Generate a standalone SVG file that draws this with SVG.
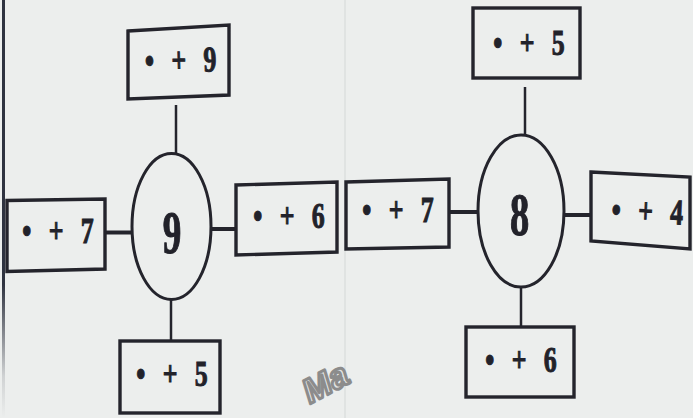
<svg xmlns="http://www.w3.org/2000/svg" width="693" height="418" viewBox="0 0 693 418">
<defs>
<linearGradient id="edgefade" x1="0" y1="0" x2="0" y2="418" gradientUnits="userSpaceOnUse">
  <stop offset="0" stop-color="#2f3340"/>
  <stop offset="0.68" stop-color="#2f3340"/>
  <stop offset="0.9" stop-color="#2f3340" stop-opacity="0.15"/>
  <stop offset="1" stop-color="#2f3340" stop-opacity="0"/>
</linearGradient>
</defs>
<style>
.box{fill:none;stroke:#24242c;stroke-width:3.4;stroke-linejoin:miter}
.ring{fill:none;stroke:#24242c;stroke-width:3}
.lbl{font-family:"Liberation Serif","Times New Roman",serif;font-weight:bold;font-size:36px;fill:#22222a;stroke:#22222a;stroke-width:1;text-anchor:middle;word-spacing:15px}
.num{font-family:"Liberation Serif","Times New Roman",serif;font-weight:bold;font-size:62px;fill:#22222a;stroke:#22222a;stroke-width:1.2;text-anchor:middle}
.thin{stroke:#24242c;stroke-width:2.5;fill:none}
.thick{stroke:#24242c;stroke-width:4;fill:none}
.wm{font-family:"Liberation Sans",Arial,sans-serif;font-weight:bold;font-style:italic;font-size:34px;fill:#e2e4e3;stroke:#8c8c8c;stroke-width:3;stroke-linejoin:round}
</style>
<rect width="693" height="418" fill="#eceeed"/>
<line x1="345" y1="0" x2="345" y2="418" stroke="#e0e3e2" stroke-width="2"/>
<line x1="3.5" y1="0" x2="3.5" y2="418" stroke="url(#edgefade)" stroke-width="3"/>

<g id="connectors">
  <line class="thin" x1="176" y1="105" x2="176" y2="154"/>
  <line class="thick" x1="105" y1="232.5" x2="133" y2="232.5"/>
  <line class="thick" x1="211" y1="229" x2="236" y2="229"/>
  <line class="thin" x1="171" y1="299" x2="171" y2="342"/>
  <line class="thin" x1="525" y1="87" x2="525" y2="136"/>
  <line class="thick" x1="449" y1="212" x2="478" y2="212"/>
  <line class="thick" x1="564" y1="215" x2="591" y2="215"/>
  <line class="thin" x1="521" y1="286" x2="521" y2="328"/>
</g>

<g id="center-9">
  <ellipse class="ring" cx="171.5" cy="226.5" rx="39.5" ry="73"/>
  <text class="num" transform="translate(172,253) scale(0.6,1)">9</text>
</g>
<g id="box-9-top">
  <polygon class="box" points="128,31 229,25 229,95 128,99"/>
  <text class="lbl" transform="translate(181,72) rotate(-1.5) scale(0.72,1)">• + 9</text>
</g>
<g id="box-9-left">
  <polygon class="box" points="7,200.5 105,199 105,269 7,271.5"/>
  <text class="lbl" transform="translate(58,243) scale(0.72,1)">• + 7</text>
</g>
<g id="box-9-right">
  <polygon class="box" points="236,185 337,182 337,252 236,255"/>
  <text class="lbl" transform="translate(289,228) scale(0.72,1)">• + 6</text>
</g>
<g id="box-9-bottom">
  <rect class="box" x="120" y="341" width="100" height="72"/>
  <text class="lbl" transform="translate(172,386) scale(0.72,1)">• + 5</text>
</g>

<g id="center-8">
  <ellipse class="ring" cx="521" cy="211" rx="43" ry="76"/>
  <text class="num" transform="translate(519.5,235) scale(0.62,1)">8</text>
</g>
<g id="box-8-top">
  <rect class="box" x="473" y="8" width="107" height="70"/>
  <text class="lbl" transform="translate(529,55) scale(0.72,1)">• + 5</text>
</g>
<g id="box-8-left">
  <polygon class="box" points="346,182 449,179 449,247 346,249"/>
  <text class="lbl" transform="translate(398,222) scale(0.72,1)">• + 7</text>
</g>
<g id="box-8-right">
  <polygon class="box" points="591,172 690,177 690,249 591,241"/>
  <text class="lbl" transform="translate(647,223) rotate(2.5) scale(0.72,1)">• + 4</text>
</g>
<g id="box-8-bottom">
  <rect class="box" x="466" y="327" width="108" height="70"/>
  <text class="lbl" transform="translate(521,372) scale(0.72,1)">• + 6</text>
</g>

<text class="wm" transform="translate(310,404) rotate(-28)">Ma</text>
</svg>
